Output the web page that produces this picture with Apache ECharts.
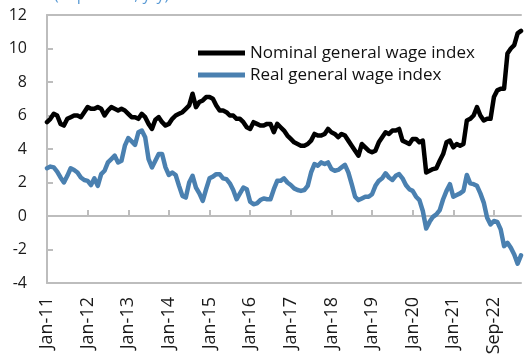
<!DOCTYPE html>
<html>
<head>
<meta charset="utf-8">
<script src="https://cdn.jsdelivr.net/npm/echarts@6/dist/echarts.min.js"></script>
<style>
  html, body { margin: 0; padding: 0; background: #fff; }
  #chart { width: 524px; height: 358px; }
</style>
</head>
<body>
<div id="chart"></div>
<script>
// Monthly observations, Jan-11 onwards
const MONTHS = ['Jan','Feb','Mar','Apr','May','Jun','Jul','Aug','Sep','Oct','Nov','Dec'];
const categories = [];
for (let y = 11; y <= 22; y++) {
  for (let m = 0; m < 12; m++) {
    if (y === 22 && m > 8) break;
    categories.push(MONTHS[m] + '-' + y);
  }
}

// Axis labels shown every 12 months
const xTickLabels = ['Jan-11','Jan-12','Jan-13','Jan-14','Jan-15','Jan-16',
  'Jan-17','Jan-18','Jan-19','Jan-20','Jan-21','Sep-22'];
const yTicks = { min: -4, max: 12, step: 2 };

// % y/y
const nominalWage = [
  5.6, 5.8, 6.1, 6.0, 5.5, 5.4, 5.8, 5.9, 6.0, 6.0, 5.9, 6.2,
  6.5, 6.4, 6.4, 6.5, 6.4, 6.0, 6.3, 6.5, 6.4, 6.3, 6.4, 6.3,
  6.1, 5.9, 5.9, 5.8, 6.1, 5.9, 5.5, 5.2, 5.75, 5.9, 5.6, 5.4,
  5.5, 5.8, 6.0, 6.1, 6.2, 6.4, 6.6, 7.3, 6.5, 6.8, 6.9, 7.1,
  7.1, 7.0, 6.6, 6.3, 6.3, 6.2, 6.0, 6.0, 5.8, 5.8, 5.6, 5.3,
  5.2, 5.6, 5.5, 5.4, 5.4, 5.5, 5.5, 5.0, 5.5, 5.3, 5.1, 4.8,
  4.6, 4.4, 4.3, 4.2, 4.2, 4.3, 4.5, 4.9, 4.8, 4.8, 4.9, 5.2,
  5.0, 4.9, 4.7, 4.9, 4.8, 4.5, 4.2, 3.9, 3.6, 4.3, 4.1, 3.9,
  3.8, 3.9, 4.4, 4.7, 5.0, 4.9, 5.1, 5.1, 5.2, 4.5, 4.4, 4.3,
  4.6, 4.6, 4.4, 4.5, 2.6, 2.7, 2.8, 2.85, 3.3, 3.7, 4.4, 4.5,
  4.1, 4.3, 4.2, 4.3, 5.7, 5.8, 6.0, 6.5, 6.0, 5.7, 5.8, 5.8,
  7.1, 7.5, 7.6, 7.6, 9.7, 10.0, 10.2, 10.9, 11.05
];
const realWage = [
  2.85, 2.95, 2.9, 2.65, 2.3, 2.0, 2.4, 2.85, 2.75, 2.6, 2.3, 2.15,
  2.1, 1.85, 2.25, 1.8, 2.5, 2.7, 3.2, 3.4, 3.6, 3.2, 3.3, 4.2,
  4.65, 4.45, 4.25, 5.0, 5.1, 4.7, 3.4, 2.9, 3.3, 3.7, 3.7, 2.9,
  2.45, 2.6, 2.45, 1.8, 1.2, 1.1, 2.0, 2.4, 1.7, 1.35, 0.9, 1.6,
  2.25, 2.35, 2.5, 2.5, 2.25, 2.2, 1.95, 1.55, 1.0, 1.35, 1.7, 1.6,
  0.85, 0.7, 0.75, 0.95, 1.05, 1.0, 1.0, 1.6, 2.1, 2.1, 2.25, 2.0,
  1.85, 1.65, 1.55, 1.5, 1.55, 1.8, 2.6, 3.1, 3.0, 3.2, 3.1, 3.2,
  2.8, 2.7, 2.75, 2.9, 3.05, 2.6, 1.9, 1.15, 0.95, 1.05, 1.15, 1.15,
  1.3, 1.8, 2.1, 2.25, 2.55, 2.3, 2.15, 2.4, 2.5, 2.25, 1.85, 1.6,
  1.5, 1.15, 0.95, 0.3, -0.75, -0.35, -0.05, 0.1, 0.35, 1.0, 1.5, 1.9,
  1.15, 1.25, 1.35, 1.5, 2.45, 1.95, 1.9, 1.8, 1.35, 0.8, -0.1, -0.5,
  -0.3, -0.35, -0.8, -1.8, -1.6, -1.9, -2.3, -2.85, -2.35
];

const FONT = '"Open Sans", "Noto Sans", sans-serif';
const AXIS_GREY = '#bdbdbd';
const BLUE = '#4a80b0';

const chart = echarts.init(document.getElementById('chart'), null, { renderer: 'canvas' });

const baseX = {
  type: 'category',
  data: categories,
  boundaryGap: false,
  axisLabel: { show: false },
  axisTick: { show: false },
  splitLine: { show: false }
};

chart.setOption({
  animation: false,
  backgroundColor: '#ffffff',
  textStyle: { fontFamily: FONT },
  grid: { left: 47, right: 3, top: 15, bottom: 75, containLabel: false },
  graphic: [{
    type: 'text',
    left: 54,
    top: -13,
    style: { text: '(in percent, y/y)', fill: '#5b9bd5', font: '16px ' + FONT }
  }],
  legend: {
    orient: 'vertical',
    left: 193,
    top: 39,
    itemWidth: 47,
    itemHeight: 5,
    itemGap: 4,
    icon: 'rect',
    textStyle: { fontSize: 17, color: '#111', lineHeight: 18, fontFamily: FONT },
    data: ['Nominal general wage index', 'Real general wage index']
  },
  xAxis: [
    Object.assign({}, baseX, {
      position: 'bottom',
      axisLine: { show: true, onZero: false, lineStyle: { color: AXIS_GREY, width: 2 } },
      axisLabel: {
        show: true,
        rotate: 90,
        margin: 14,
        fontSize: 18,
        color: '#1a1a1a',
        fontFamily: FONT,
        interval: (i) => i % 12 === 0,
        formatter: (v, i) => xTickLabels[Math.round(i / 12)] || ''
      }
    }),
    Object.assign({}, baseX, {
      position: 'top',
      axisLine: { show: true, onZero: false, lineStyle: { color: AXIS_GREY, width: 2 } }
    }),
    Object.assign({}, baseX, {
      position: 'bottom',
      axisLine: { show: true, onZero: true, lineStyle: { color: AXIS_GREY, width: 2 } },
      axisTick: {
        show: true,
        inside: true,
        length: 6,
        interval: (i) => i % 12 === 0,
        lineStyle: { color: AXIS_GREY, width: 2 }
      }
    })
  ],
  yAxis: {
    type: 'value',
    min: yTicks.min,
    max: yTicks.max,
    interval: yTicks.step,
    axisLine: { show: true, lineStyle: { color: AXIS_GREY, width: 2 } },
    axisTick: { show: true, inside: true, length: 6, lineStyle: { color: AXIS_GREY, width: 2 } },
    axisLabel: { fontSize: 16, color: '#1a1a1a', margin: 20, fontFamily: FONT },
    splitLine: { show: false }
  },
  series: [
    {
      name: 'Nominal general wage index',
      type: 'line',
      xAxisIndex: 0,
      data: nominalWage,
      showSymbol: false,
      symbol: 'none',
      color: '#000000',
      lineStyle: { color: '#000000', width: 4.5, cap: 'round', join: 'round' }
    },
    {
      name: 'Real general wage index',
      type: 'line',
      xAxisIndex: 0,
      data: realWage,
      showSymbol: false,
      symbol: 'none',
      color: BLUE,
      lineStyle: { color: BLUE, width: 4.5, cap: 'round', join: 'round' }
    }
  ]
});
</script>
</body>
</html>
